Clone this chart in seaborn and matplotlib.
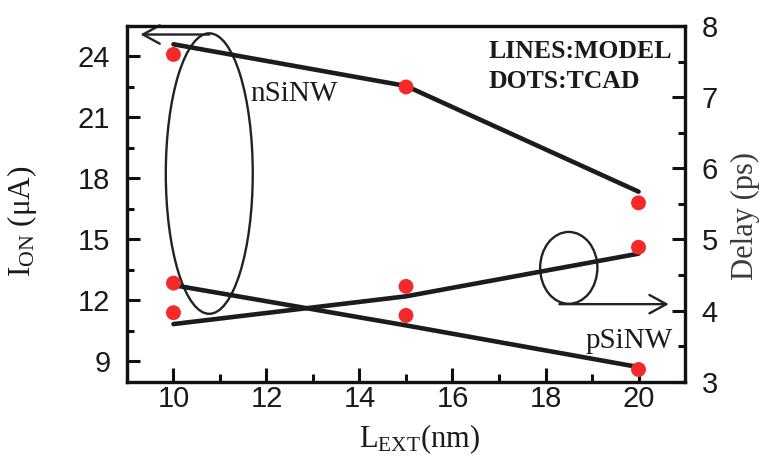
import matplotlib
matplotlib.use('Agg')
import matplotlib.pyplot as plt
import seaborn as sns
from matplotlib.patches import Ellipse
from matplotlib.ticker import MultipleLocator, FixedLocator

# ---------------- data ----------------
x_lext = [10, 15, 20]
ion_n_model = [24.6, 22.55, 17.35]
ion_n_tcad = [24.1, 22.5, 16.8]
ion_p_model = [12.75, 10.77, 8.72]
ion_p_tcad = [12.85, 11.26, 8.6]
delay_model = [3.81, 4.20, 4.80]
delay_tcad = [3.97, 4.34, 4.89]
x_ticks = [10, 12, 14, 16, 18, 20]
ion_ticks = [9, 12, 15, 18, 21, 24]
delay_ticks = [3, 4, 5, 6, 7, 8]

sns.set_style('ticks')
plt.rcParams['font.family'] = ['Liberation Sans', 'DejaVu Sans']
plt.rcParams['mathtext.fontset'] = 'custom'
plt.rcParams['mathtext.rm'] = 'Liberation Serif'
plt.rcParams['mathtext.it'] = 'Liberation Serif:italic'
plt.rcParams['mathtext.bf'] = 'Liberation Serif:bold'

SERIF = ['Liberation Serif', 'DejaVu Serif']
LINE_C = '#1c1c1c'
DOT_C = '#f42a2a'
TXT_C = '#1a1a1a'

fig = plt.figure(figsize=(7.63, 4.59), dpi=100)
ax = fig.add_axes([0.1664, 0.1684, 0.7314, 0.775])
ax2 = ax.twinx()

# lines (model)
sns.lineplot(x=x_lext, y=ion_n_model, ax=ax, color=LINE_C, lw=3.3, zorder=3)
sns.lineplot(x=x_lext, y=ion_p_model, ax=ax, color=LINE_C, lw=3.3, zorder=3)
sns.lineplot(x=x_lext, y=delay_model, ax=ax2, color=LINE_C, lw=3.3, zorder=3)
# dots (TCAD)
sns.scatterplot(x=x_lext, y=ion_n_tcad, ax=ax, color=DOT_C, s=115, edgecolor='none', zorder=4)
sns.scatterplot(x=x_lext, y=ion_p_tcad, ax=ax, color=DOT_C, s=115, edgecolor='none', zorder=4)
sns.scatterplot(x=x_lext, y=delay_tcad, ax=ax2, color=DOT_C, s=115, edgecolor='none', zorder=4)

ax.set_xlim(9, 21)
ax.set_ylim(8, 25.5)
ax2.set_ylim(3, 8)

ax.xaxis.set_major_locator(FixedLocator(x_ticks))
ax.xaxis.set_minor_locator(MultipleLocator(1))
ax.yaxis.set_major_locator(FixedLocator(ion_ticks))
ax.yaxis.set_minor_locator(MultipleLocator(1.5))
ax2.yaxis.set_major_locator(FixedLocator(delay_ticks))
ax2.yaxis.set_minor_locator(MultipleLocator(0.5))

for a in (ax, ax2):
    for sp in a.spines.values():
        sp.set_visible(True)
        sp.set_linewidth(2.3)
        sp.set_color('#111111')

ax.tick_params(axis='x', which='both', direction='in', bottom=True, top=False,
               width=2.2, labelsize=21, pad=2.5, labelcolor=TXT_C, color='#111111')
ax.tick_params(axis='x', which='major', length=10)
ax.tick_params(axis='x', which='minor', length=5.5)
ax.tick_params(axis='y', which='both', direction='in', left=True, right=False,
               width=2.2, labelsize=21, pad=12, labelcolor=TXT_C, color='#111111')
ax.tick_params(axis='y', which='major', length=9.5)
ax.tick_params(axis='y', which='minor', length=5)
ax2.tick_params(axis='y', which='both', direction='in', left=False, right=True,
                width=2.2, labelsize=21, pad=12, labelcolor=TXT_C, color='#111111')
ax2.tick_params(axis='y', which='major', length=9.5)
ax2.tick_params(axis='y', which='minor', length=5)

ax.set_xlabel(r'L$_{\rm EXT}$(nm)', family=SERIF, fontsize=22, color=TXT_C)
ax.set_ylabel(r'I$_{\rm ON}$ (μA)', family=SERIF, fontsize=22.5, color=TXT_C)
ax2.set_ylabel('Delay (ps)', family=SERIF, fontsize=22, color='#3a3a3a', rotation=90)
ax.xaxis.set_label_coords(0.525, -0.115)
ax.yaxis.set_label_coords(-0.158, 0.45)
ax2.yaxis.set_label_coords(1.082, 0.466)

# annotations
ax.add_patch(Ellipse((10.77, 18.24), width=1.87, height=13.8, fill=False,
                     lw=1.7, ec='#222222', zorder=2))
ax.annotate('', xy=(9.29, 25.08), xytext=(10.77, 25.08),
            arrowprops=dict(arrowstyle='->,head_length=0.55,head_width=0.3',
                            lw=1.7, color='#222222', mutation_scale=22,
                            shrinkA=0, shrinkB=0))
ax2.add_patch(Ellipse((18.5, 4.60), width=1.23, height=1.01, fill=False,
                      lw=1.7, ec='#222222', zorder=2))
ax2.annotate('', xy=(20.65, 4.09), xytext=(18.3, 4.09),
             arrowprops=dict(arrowstyle='->,head_length=0.55,head_width=0.3',
                             lw=1.7, color='#222222', mutation_scale=22,
                             shrinkA=0, shrinkB=0))

ax.text(11.66, 21.79, 'nSiNW', family=SERIF, fontsize=21, color=TXT_C, va='baseline')
ax.text(18.86, 9.64, 'pSiNW', family=SERIF, fontsize=21, color=TXT_C, va='baseline')
ax.text(16.77, 23.94, 'LINES:MODEL', family=SERIF, fontsize=18.5, weight='bold',
        color=TXT_C, va='baseline')
ax.text(16.77, 22.46, 'DOTS:TCAD', family=SERIF, fontsize=18.5, weight='bold',
        color=TXT_C, va='baseline')

fig.savefig('out.png', dpi=100)
